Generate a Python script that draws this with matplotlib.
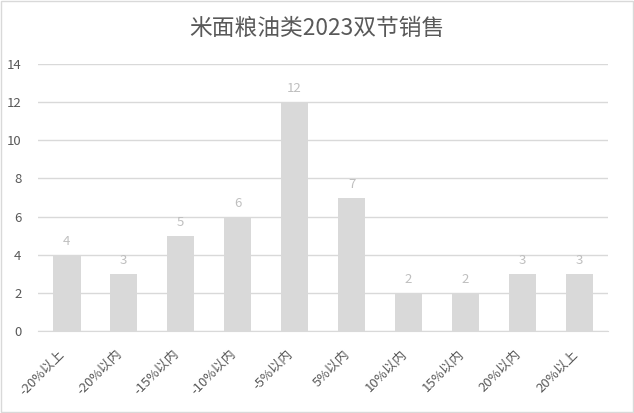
import matplotlib
matplotlib.use("Agg")
import matplotlib.pyplot as plt
import matplotlib.transforms as mtransforms
from matplotlib.patches import Rectangle

plt.rcParams['font.family'] = ['Noto Sans CJK SC', 'DejaVu Sans']

categories = ["-20%以上", "-20%以内", "-15%以内", "-10%以内", "-5%以内",
              "5%以内", "10%以内", "15%以内", "20%以内", "20%以上"]
counts = [4, 3, 5, 6, 12, 7, 2, 2, 3, 3]
yticks = [0, 2, 4, 6, 8, 10, 12, 14]

fig = plt.figure(figsize=(6.34, 4.13), dpi=100)
ax = fig.add_axes([0.06, 0.1985, 0.899, 0.6465])

x = list(range(len(categories)))
bars = ax.bar(x, counts, width=0.49, color='#d9d9d9', zorder=3)
for xi, v in zip(x, counts):
    ax.text(xi, v + 0.35, str(v), ha='center', va='bottom',
            fontsize=9.5, color='#bfbfbf')

ax.set_xlim(-0.5, len(categories) - 0.5)
ax.set_ylim(0, 14)
ax.set_yticks(yticks)
ax.grid(axis='y', color='#d9d9d9', linewidth=1, zorder=0)
ax.tick_params(axis='both', length=0, colors='#595959', labelsize=9.5)
ax.tick_params(axis='y', pad=12)
ax.set_xticks(x)
ax.set_xticklabels(categories, rotation=45, ha='right', rotation_mode='anchor')
ax.tick_params(axis='x', pad=12)
# nudge the slanted labels a little to the left of each bar
shift = mtransforms.ScaledTranslation(-6 / 72, 0, fig.dpi_scale_trans)
for lab in ax.get_xticklabels():
    lab.set_transform(lab.get_transform() + shift)
for s in ['top', 'right', 'left']:
    ax.spines[s].set_visible(False)
ax.spines['bottom'].set_color('#d9d9d9')

fig.text(0.5, 0.932, "米面粮油类2023双节销售", ha='center', va='center',
         fontsize=16.4, color='#595959')

# thin frame round the whole chart
fig.patches.append(Rectangle((0.002, 0.003), 0.996, 0.994, transform=fig.transFigure,
                             fill=False, edgecolor='#d9d9d9', linewidth=1))

fig.savefig("out.png", dpi=100)
